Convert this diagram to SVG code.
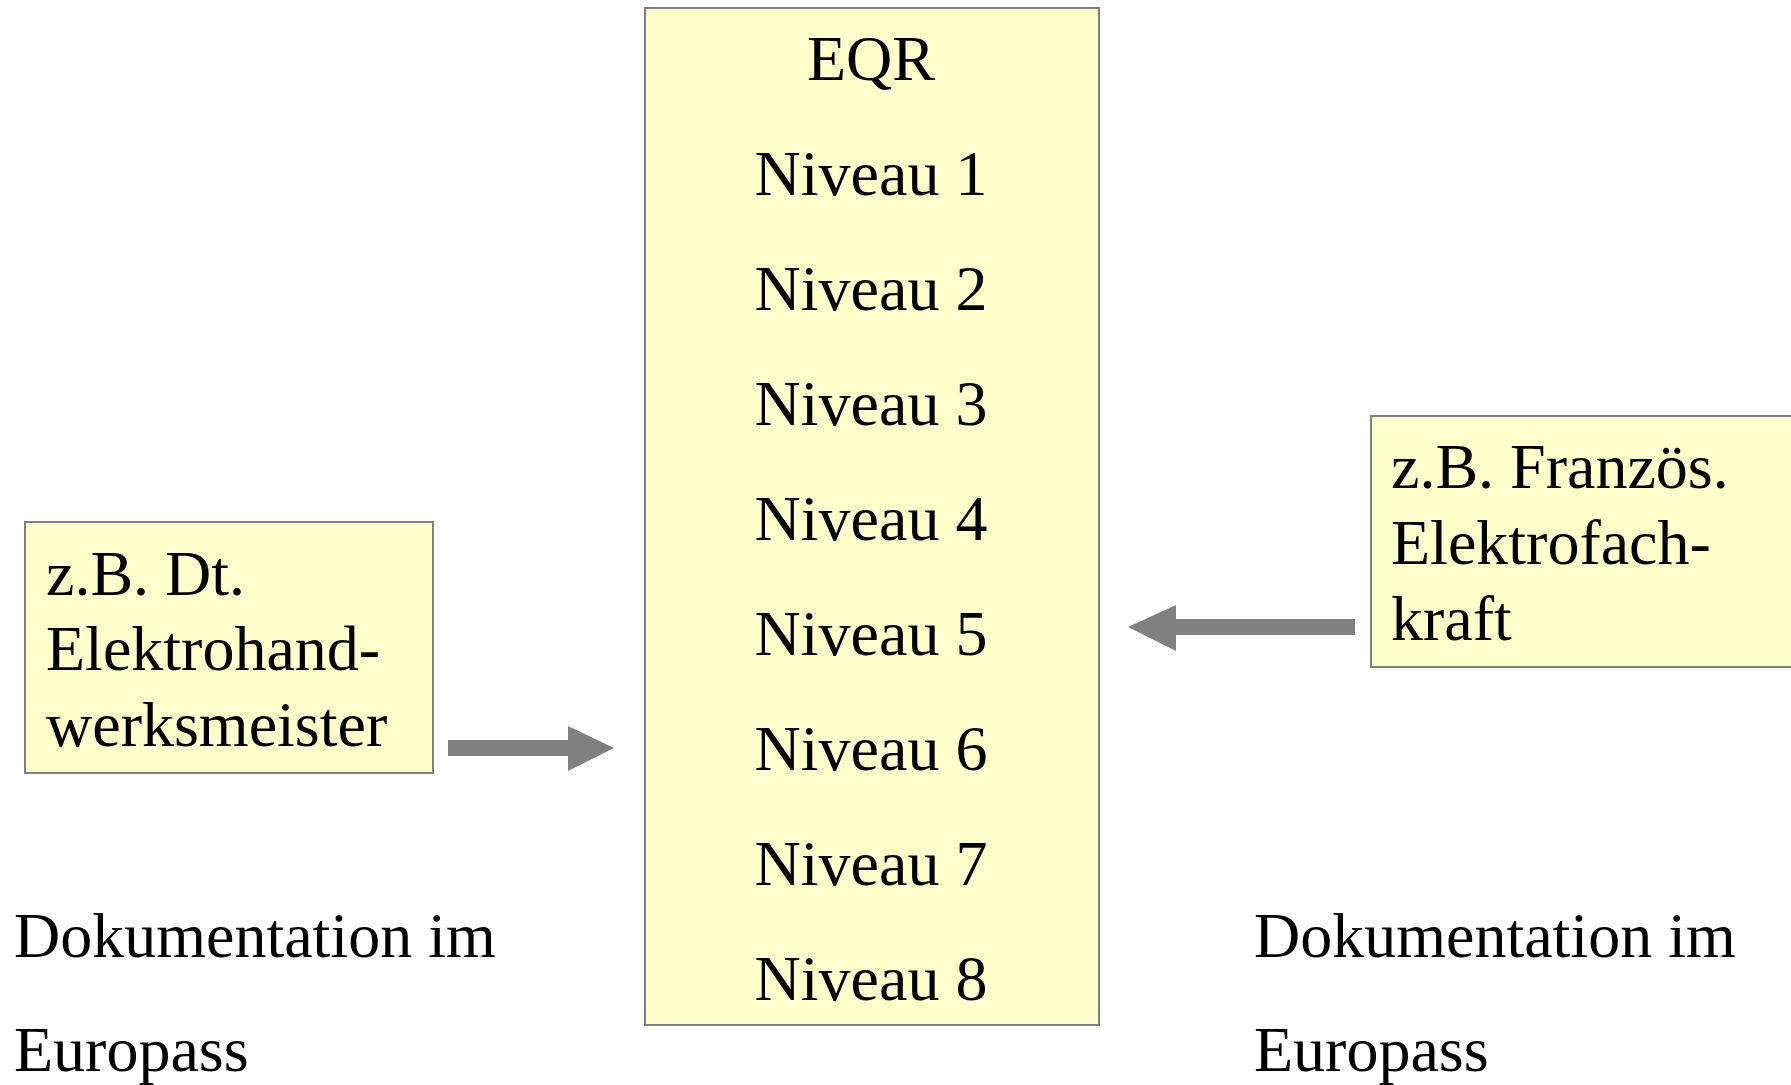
<svg xmlns="http://www.w3.org/2000/svg" width="1791" height="1085" viewBox="0 0 1791 1085">
<style>
.box{fill:#FFFFCC;stroke:#808080;stroke-width:2}
.t{font-family:"Liberation Serif","Times New Roman",serif;font-size:64px;fill:#000}
.c{text-anchor:middle}
.arr{fill:#808080}
</style>
<rect width="1791" height="1085" fill="#fff"/>
<g id="eqr">
<rect class="box" x="645" y="8" width="454" height="1017"/>
<text class="t c" x="871" y="80">EQR</text>
<text class="t c" x="871" y="195">Niveau 1</text>
<text class="t c" x="871" y="310">Niveau 2</text>
<text class="t c" x="871" y="425">Niveau 3</text>
<text class="t c" x="871" y="540">Niveau 4</text>
<text class="t c" x="871" y="655">Niveau 5</text>
<text class="t c" x="871" y="770">Niveau 6</text>
<text class="t c" x="871" y="885">Niveau 7</text>
<text class="t c" x="871" y="1000">Niveau 8</text>
</g>
<g id="de">
<rect class="box" x="25" y="522" width="408" height="251"/>
<text class="t" x="46" y="595">z.B. Dt.</text>
<text class="t" x="46" y="670">Elektrohand-</text>
<text class="t" x="46" y="746">werksmeister</text>
</g>
<g id="fr">
<rect class="box" x="1371" y="416" width="430" height="251"/>
<text class="t" x="1391" y="488">z.B. Französ.</text>
<text class="t" x="1391" y="564">Elektrofach-</text>
<text class="t" x="1391" y="640">kraft</text>
</g>
<g id="doc-left">
<text class="t" x="14" y="957">Dokumentation im</text>
<text class="t" x="14" y="1071">Europass</text>
</g>
<g id="doc-right">
<text class="t" x="1254" y="957">Dokumentation im</text>
<text class="t" x="1254" y="1071">Europass</text>
</g>
<g id="connectors">
<polygon class="arr" points="448,740 568,740 568,726 614,748 568,771 568,756 448,756"/>
<polygon class="arr" points="1355,619 1176,619 1176,605 1128,627 1176,651 1176,635 1355,635"/>
</g>
</svg>
